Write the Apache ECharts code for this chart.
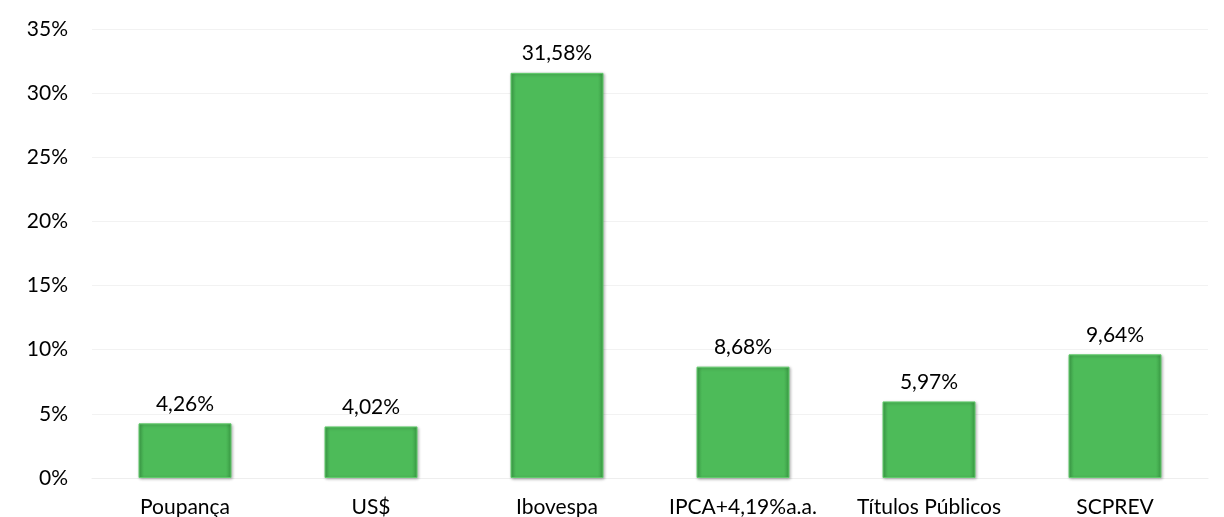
<!DOCTYPE html>
<html><head><meta charset="utf-8">
<script src="https://cdn.jsdelivr.net/npm/echarts@6/dist/echarts.min.js"></script>
<style>html,body{margin:0;padding:0;background:#fff}#c{width:1224px;height:517px}</style>
</head><body><div id="c"></div>
<script>
const categories = ['Poupança', 'US$', 'Ibovespa', 'IPCA+4,19%a.a.', 'Títulos Públicos', 'SCPREV'];
const values = [4.26, 4.02, 31.58, 8.68, 5.97, 9.64];
const yTicks = [0, 5, 10, 15, 20, 25, 30, 35];

const font = 'Lato, "Open Sans", sans-serif';
const chart = echarts.init(document.getElementById('c'));
chart.setOption({
  animation: false,
  grid: { left: 92, right: 16, top: 29, bottom: 39, containLabel: false, outerBoundsMode: 'none' },
  xAxis: {
    type: 'category', data: categories,
    axisLine: { show: true, lineStyle: { color: '#eeeeee' } },
    axisTick: { show: false },
    axisLabel: { color: '#000', fontSize: 21, fontFamily: font, margin: 19, interval: 0 }
  },
  yAxis: {
    type: 'value', min: yTicks[0], max: yTicks[yTicks.length - 1], interval: 5,
    axisLine: { show: false }, axisTick: { show: false },
    splitLine: { lineStyle: { color: '#f2f2f2' } },
    axisLabel: { color: '#000', fontSize: 21, fontFamily: font, margin: 24, formatter: v => v + '%' }
  },
  series: [{
    type: 'bar', data: values, barWidth: '50%',
    itemStyle: {
      color: new echarts.graphic.LinearGradient(0, 0, 1, 0, [
        { offset: 0, color: '#3fa34a' },
        { offset: 0.06, color: '#4dbb59' },
        { offset: 0.94, color: '#4dbb59' },
        { offset: 1, color: '#3a9a44' }
      ]),
      borderColor: '#62cc6c', borderWidth: 1,
      shadowColor: 'rgba(0,0,0,0.3)', shadowBlur: 3, shadowOffsetX: 1, shadowOffsetY: 1
    },
    label: {
      show: true, position: 'top', distance: 9, color: '#000', fontSize: 21, fontFamily: font,
      formatter: p => p.value.toFixed(2).replace('.', ',') + '%'
    }
  }]
});
</script></body></html>
